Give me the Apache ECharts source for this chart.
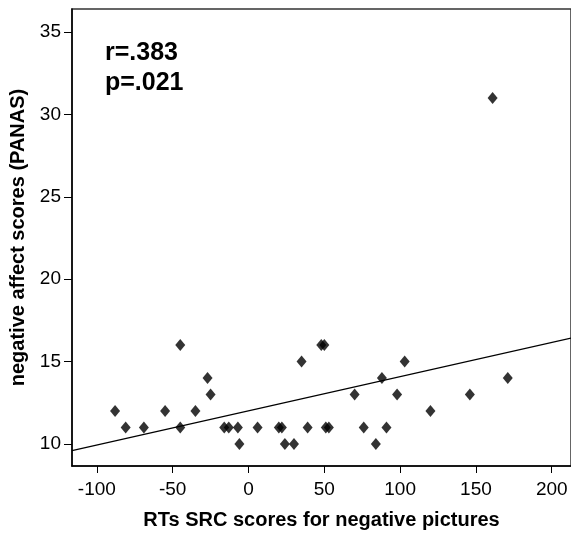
<!DOCTYPE html>
<html>
<head>
<meta charset="utf-8">
<script src="https://cdn.jsdelivr.net/npm/echarts@6/dist/echarts.min.js"></script>
<style>html,body{margin:0;padding:0;background:#fff}#c{width:571px;height:534px}</style>
</head>
<body>
<div id="c"></div>
<script>
// RTs SRC scores for negative pictures (x) vs negative affect scores (PANAS) (y)
const srcScores = [-88, -81, -69, -55, -45, -45, -35, -27, -25, -16, -13, -7, -6, 6, 20, 22, 24, 30, 35, 39,
                   48, 50, 51, 53, 70, 76, 84, 88, 91, 98, 103, 120, 146, 171, 161];
const panasScores = [12, 11, 11, 12, 16, 11, 12, 14, 13, 11, 11, 11, 10, 11, 11, 11, 10, 10, 15, 11,
                     16, 16, 11, 11, 13, 11, 10, 14, 11, 13, 15, 12, 13, 14, 31];
const fitLineX = [-116.4, 212.7];
const fitLineY = [9.59, 16.42];
const xTicks = [-100, -50, 0, 50, 100, 150, 200];
const yTicks = [10, 15, 20, 25, 30, 35];
const statLines = ['r=.383', 'p=.021'];

const points = srcScores.map((x, i) => [x, panasScores[i]]);
const fitLine = fitLineX.map((x, i) => [x, fitLineY[i]]);
const font = 'Liberation Sans, Arial, sans-serif';

const chart = echarts.init(document.getElementById('c'));
chart.setOption({
  animation: false,
  grid: { left: 72, top: 9, right: 0, bottom: 68, outerBoundsMode: 'none', containLabel: false,
          show: true, borderColor: '#333', borderWidth: 1.5, backgroundColor: '#fff' },
  xAxis: {
    type: 'value', min: -116.4, max: 212.7,
    name: 'RTs SRC scores for negative pictures', nameLocation: 'middle', nameGap: 44,
    nameTextStyle: { fontFamily: font, fontWeight: 'bold', fontSize: 20, color: '#000' },
    axisLine: { show: true, onZero: false, lineStyle: { color: '#000', width: 1.5 } },
    axisTick: { show: true, inside: false, length: 7, customValues: xTicks, lineStyle: { color: '#000' } },
    axisLabel: { customValues: xTicks, fontFamily: font, fontSize: 19, color: '#000', margin: 14 },
    splitLine: { show: false }
  },
  yAxis: {
    type: 'value', min: 8.66, max: 36.4,
    name: 'negative affect scores (PANAS)', nameLocation: 'middle', nameGap: 38,
    nameTextStyle: { fontFamily: font, fontWeight: 'bold', fontSize: 20, color: '#000' },
    axisLine: { show: true, onZero: false, lineStyle: { color: '#000', width: 1.5 } },
    axisTick: { show: true, inside: false, length: 8, customValues: yTicks, lineStyle: { color: '#000' } },
    axisLabel: { customValues: yTicks, fontFamily: font, fontSize: 19, color: '#000', margin: 11 },
    splitLine: { show: false }
  },
  series: [
    {
      type: 'line', data: fitLine, symbol: 'none', silent: true,
      lineStyle: { color: '#000', width: 1.2 }
    },
    {
      type: 'scatter', data: points, symbol: 'diamond', symbolSize: [10, 12],
      itemStyle: { color: '#000' }
    }
  ],
  graphic: statLines.map((t, i) => ({
    type: 'text', left: 105, top: 41 + i * 30,
    style: { text: t, font: 'bold 25px ' + font, fill: '#000' }
  }))
});
</script>
</body>
</html>
